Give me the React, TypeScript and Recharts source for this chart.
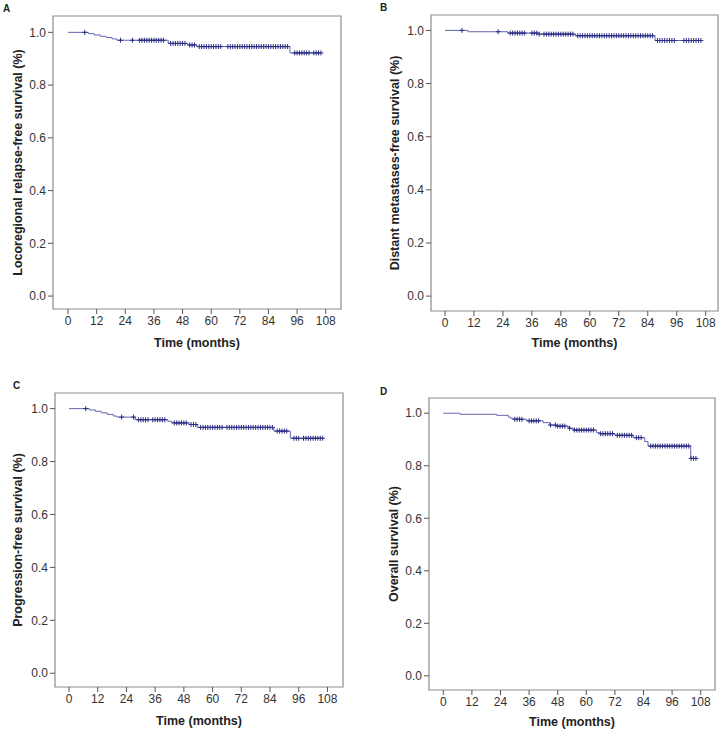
import React from 'react';
import { ComposedChart, Line, Scatter, XAxis, YAxis, ReferenceArea, Label } from 'recharts';

type Step = [number, number];

const timeTicks = [0, 12, 24, 36, 48, 60, 72, 84, 96, 108];
const survivalTicks = [0, 0.2, 0.4, 0.6, 0.8, 1.0];

// A - locoregional relapse-free survival
const aEvents: Step[] = [[0, 1], [8.5, 0.995], [11, 0.99], [13.5, 0.985], [16, 0.98], [18.5, 0.975], [20.5, 0.97],
	[42, 0.958], [50.2, 0.952], [54, 0.946], [93, 0.922]];
const aCensored = [7, 22, 27, 30, 31, 32, 33, 34, 35, 36, 37, 38, 39, 40, 43, 44, 45, 46, 47, 48, 49, 51, 52, 53,
	55, 56, 57, 58, 59, 60, 61, 62, 63, 64, 67, 68, 69, 70, 71, 72, 73, 74, 75, 76, 77, 78, 79, 80, 81, 82, 83, 84, 85, 86,
	87, 88, 89, 90, 91, 92, 95, 96, 97, 98, 99, 100, 101, 103, 104, 105, 106];

// B - distant metastases-free survival
const bEvents: Step[] = [[0, 1], [9.5, 0.995], [26, 0.99], [39, 0.986], [54, 0.98], [87, 0.962]];
const bCensored = [7, 22, 27, 28, 29, 30, 31, 32, 33, 36, 37, 38, 39, 41, 42, 43, 44, 45, 46, 47, 48, 49, 50, 51, 52, 53,
	55, 56, 57, 58, 59, 60, 61, 62, 63, 64, 65, 66, 67, 68, 69, 70, 71, 72, 73, 74, 75, 76, 77, 78, 79, 80, 81, 82, 83, 84, 85, 86,
	88, 89, 90, 91, 92, 93, 94, 95, 99, 100, 101, 102, 103, 104, 105, 106];

// C - progression-free survival
const cEvents: Step[] = [[0, 1], [8.5, 0.995], [11, 0.99], [13.5, 0.984], [16, 0.978], [18.5, 0.972], [20, 0.968],
	[27.7, 0.958], [41.3, 0.952], [43, 0.946], [50.2, 0.94], [53.6, 0.929], [85.6, 0.915], [92.5, 0.888]];
const cCensored = [7, 22, 27, 29, 30, 31, 32, 33, 35, 36, 37, 38, 39, 40, 44, 45, 46, 47, 48, 49, 51, 52, 53,
	55, 56, 57, 58, 59, 60, 61, 62, 63, 64, 66, 67, 68, 69, 70, 71, 72, 73, 74, 75, 76, 77, 78, 79, 80, 81, 82, 83, 84, 85,
	87, 88, 89, 90, 91, 94, 95, 96, 98, 99, 100, 101, 102, 103, 104, 105, 106];

// D - overall survival
const dEvents: Step[] = [[0, 1], [7, 0.996], [22.4, 0.992], [27.3, 0.985], [28.3, 0.981], [29.3, 0.977], [35, 0.971],
	[41.9, 0.964], [44.7, 0.955], [47.5, 0.951], [52.4, 0.943], [54.5, 0.936], [64.3, 0.926], [66, 0.922], [72, 0.916],
	[79.6, 0.907], [84.5, 0.892], [85.9, 0.875], [103.8, 0.828]];
const dCensored = [30, 31, 32, 33, 36, 37, 38, 39, 40, 45, 47, 48, 49, 50, 51, 53, 55, 56, 57, 58, 59, 60, 61, 62, 63,
	66, 67, 68, 69, 70, 71, 73, 74, 75, 76, 77, 78, 79, 81, 82, 83, 87, 88, 89, 90, 91, 92, 93, 94, 95, 96, 97, 98, 99,
	100, 101, 102, 103, 104, 105, 106];

const lineColor = '#6266ad';
const censorColor = '#2b2e84';
const frameColor = '#8c8c8c';

const survivalAt = (events: Step[], t: number) => {
	let s = 1;
	events.forEach(([et, es]) => { if (et <= t) s = es; });
	return s;
};

const Plus = (props: any) => {
	const { cx, cy } = props;
	if (cx == null || cy == null) return null;
	return <path d={`M${cx - 2.5},${cy}h5M${cx},${cy - 2.5}v5`} stroke={censorColor} strokeWidth={1} fill="none" />;
};

type PanelProps = {
	letter: string, yLabel: string, events: Step[], censored: number[],
	box: { x: number, y: number, w: number, h: number },
	frame: { l: number, t: number, r: number, b: number },
	xDomain: [number, number], yDomain: [number, number],
	yTitleX: number, xTitleOffset: number, letterPos: { x: number, y: number },
};

const Panel = (props: PanelProps) => {
	const { letter, yLabel, events, censored, box, frame, xDomain, yDomain, yTitleX, xTitleOffset, letterPos } = props;
	const lastT = Math.max(...censored, events[events.length - 1][0]);
	const curve = [...events.map(([t, s]) => ({ t, s })), { t: lastT, s: survivalAt(events, lastT) }];
	const marks = censored.map(t => ({ t, s: survivalAt(events, t) }));
	const xAxisHeight = 40;
	const margin = {
		top: frame.t - box.y,
		right: box.x + box.w - frame.r,
		bottom: box.y + box.h - frame.b - xAxisHeight,
		left: 0,
	};
	const tickStyle = { fill: '#333', fontSize: 12 };
	return (
		<>
			<div style={{ position: 'absolute', left: letterPos.x, top: letterPos.y, fontSize: 10, fontWeight: 'bold', color: '#222' }}>
				{letter}
			</div>
			<div style={{ position: 'absolute', left: box.x, top: box.y }}>
				<ComposedChart width={box.w} height={box.h} margin={margin}>
					<XAxis dataKey="t" type="number" domain={xDomain} ticks={timeTicks} allowDataOverflow
					       axisLine={false} tickLine={{ stroke: '#555' }} tickSize={5} tick={tickStyle} height={xAxisHeight}>
						<Label value="Time (months)" position="insideBottom" offset={xTitleOffset}
						       style={{ fontSize: 12.5, fontWeight: 'bold', fill: '#222' }} />
					</XAxis>
					<YAxis type="number" domain={yDomain} ticks={survivalTicks} allowDataOverflow width={frame.l - box.x}
					       axisLine={false} tickLine={{ stroke: '#555' }} tickSize={5} tick={tickStyle}
					       tickFormatter={(v: number) => v.toFixed(1)}>
						<Label content={({ viewBox }: any) => {
							const cy = viewBox.y + viewBox.height / 2;
							return (
								<text x={yTitleX} y={cy} transform={`rotate(-90 ${yTitleX} ${cy})`} textAnchor="middle"
								      dominantBaseline="central" fontSize={12.5} fontWeight="bold" fill="#222">
									{yLabel}
								</text>
							);
						}} />
					</YAxis>
					<ReferenceArea x1={xDomain[0]} x2={xDomain[1]} y1={yDomain[0]} y2={yDomain[1]}
					               fill="none" stroke={frameColor} strokeWidth={1.2} ifOverflow="visible" />
					<Line data={curve} dataKey="s" type="stepAfter" stroke={lineColor} strokeWidth={1}
					      dot={false} activeDot={false} isAnimationActive={false} />
					<Scatter data={marks} dataKey="s" shape={<Plus />} isAnimationActive={false} />
				</ComposedChart>
			</div>
		</>
	);
};

export default function App() {
	return (
		<div style={{ position: 'absolute', left: 0, top: 0, width: 726, height: 730, background: '#fff',
			fontFamily: '"Liberation Sans", Arial, sans-serif' }}>
			<Panel letter="A" yLabel="Locoregional relapse-free survival (%)" events={aEvents} censored={aCensored}
			       box={{ x: 0, y: 0, w: 363, h: 360 }} frame={{ l: 53, t: 16, r: 341, b: 309 }}
			       xDomain={[-6.3, 114.4]} yDomain={[-0.049, 1.062]} yTitleX={18} xTitleOffset={2.5}
			       letterPos={{ x: 3, y: 3 }} />
			<Panel letter="B" yLabel="Distant metastases-free survival (%)" events={bEvents} censored={bCensored}
			       box={{ x: 363, y: 0, w: 363, h: 360 }} frame={{ l: 431, t: 15, r: 718, b: 311 }}
			       xDomain={[-5.8, 113.1]} yDomain={[-0.056, 1.058]} yTitleX={31.5} xTitleOffset={4}
			       letterPos={{ x: 380, y: 2 }} />
			<Panel letter="C" yLabel="Progression-free survival (%)" events={cEvents} censored={cCensored}
			       box={{ x: 0, y: 365, w: 363, h: 365 }} frame={{ l: 55, t: 393, r: 343, b: 687 }}
			       xDomain={[-5.85, 114.5]} yDomain={[-0.052, 1.059]} yTitleX={18} xTitleOffset={2.5}
			       letterPos={{ x: 13, y: 380 }} />
			<Panel letter="D" yLabel="Overall survival (%)" events={dEvents} censored={dCensored}
			       box={{ x: 363, y: 365, w: 363, h: 365 }} frame={{ l: 429, t: 398, r: 715, b: 690 }}
			       xDomain={[-6.0, 114.0]} yDomain={[-0.054, 1.058]} yTitleX={30.7} xTitleOffset={4}
			       letterPos={{ x: 380, y: 386 }} />
		</div>
	);
}
